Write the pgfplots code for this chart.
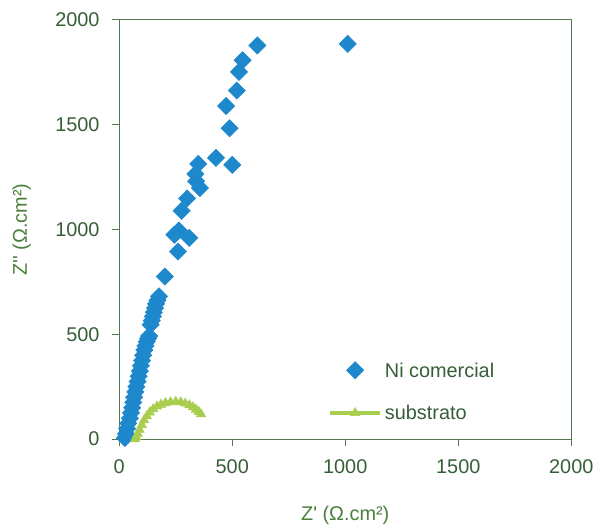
\documentclass[border=0pt]{standalone}
\usepackage{pgfplots}
\pgfplotsset{compat=1.18}
\usepackage{fontspec}
\setmainfont{Liberation Sans}

\definecolor{niblue}{HTML}{1E88CC}
\definecolor{subgreen}{HTML}{A9CD4F}
\definecolor{axisgreen}{HTML}{4E7A4E}
\definecolor{ticktext}{HTML}{375E37}
\definecolor{labeltext}{HTML}{4A7F3C}

\begin{document}
\fontsize{20bp}{23bp}\selectfont
\begin{tikzpicture}
\begin{axis}[
  name=ax,
  scale only axis,
  width=455bp, height=422bp,
  xmin=0, xmax=2000, ymin=0, ymax=2000,
  xtick={0,500,...,2000}, ytick={0,500,...,2000},
  tick pos=left, tick align=outside,
  major tick length=7bp,
  axis line style={axisgreen, line width=1bp},
  every tick/.style={axisgreen, line width=1bp},
  tick label style={text=ticktext},
  yticklabel style={xshift=-6bp},
  xticklabel style={yshift=-7bp},
  /pgf/number format/assume math mode=true,
  /pgf/number format/1000 sep={},
  xlabel={Z\textquotesingle\ (Ω.cm²)},
  ylabel={Z\textquotesingle\textquotesingle\ (Ω.cm²)},
  xlabel style={yshift=-19bp},
  ylabel style={yshift=11bp},
  label style={text=labeltext},
  clip=false,
  legend cell align=left,
  legend image code/.code={\draw[mark repeat=2,mark phase=2] plot coordinates {(0bp,0bp) (25bp,0bp) (50bp,0bp)};},
  legend style={draw=none, fill=none, inner sep=0pt,
    at={(0.462,0.186)}, anchor=north west,
    nodes={inner sep=2bp, text=ticktext, text height=14bp, text depth=0bp},
    row sep=25bp,
    /tikz/every odd column/.append style={column sep=1bp}},
]
% Nyquist data, Ni comercial
\addplot[only marks, mark=square*, mark size=6.2bp,
  mark options={rotate=45, draw=niblue, fill=niblue}]
  coordinates {
  (25,5) (30,25) (35,50) (40,75) (47,100) (52,125) (57,150) (62,175)
  (66,200) (71,225) (76,250) (81,275) (86,300) (91,325) (96,350) (101,375)
  (106,400) (111,425) (116,445) (122,465) (128,480) (132,492)
  (139,546) (144,565) (149,585) (153,605) (158,625) (163,645) (169,662) (176,681)
  (202,776) (260,895) (244,975) (264,995) (310,960) (276,1089) (300,1148)
  (357,1198) (340,1230) (337,1265) (350,1313) (428,1342) (500,1308)
  (488,1483) (473,1589) (520,1663) (530,1752) (546,1807) (611,1878) (1011,1885)
  };
\addlegendentry{Ni comercial}
% Nyquist data, substrato
\addplot[subgreen, line width=4bp, mark=triangle*, mark size=5.5bp,
  mark options={solid, fill=subgreen, draw=subgreen, line width=0.5bp}]
  coordinates {
  (70,0) (75,10) (82,25) (90,45) (100,68) (110,90) (122,110) (135,128)
  (150,143) (167,156) (185,165) (205,172) (227,176) (250,178) (272,176)
  (292,170) (310,162) (326,152) (340,141) (352,130) (362,119)
  };
\addlegendentry{substrato}
\end{axis}
\path ([shift={(-120bp,-79bp)}]ax.south west) rectangle ([shift={(25bp,20bp)}]ax.north east);
\end{tikzpicture}
\end{document}
